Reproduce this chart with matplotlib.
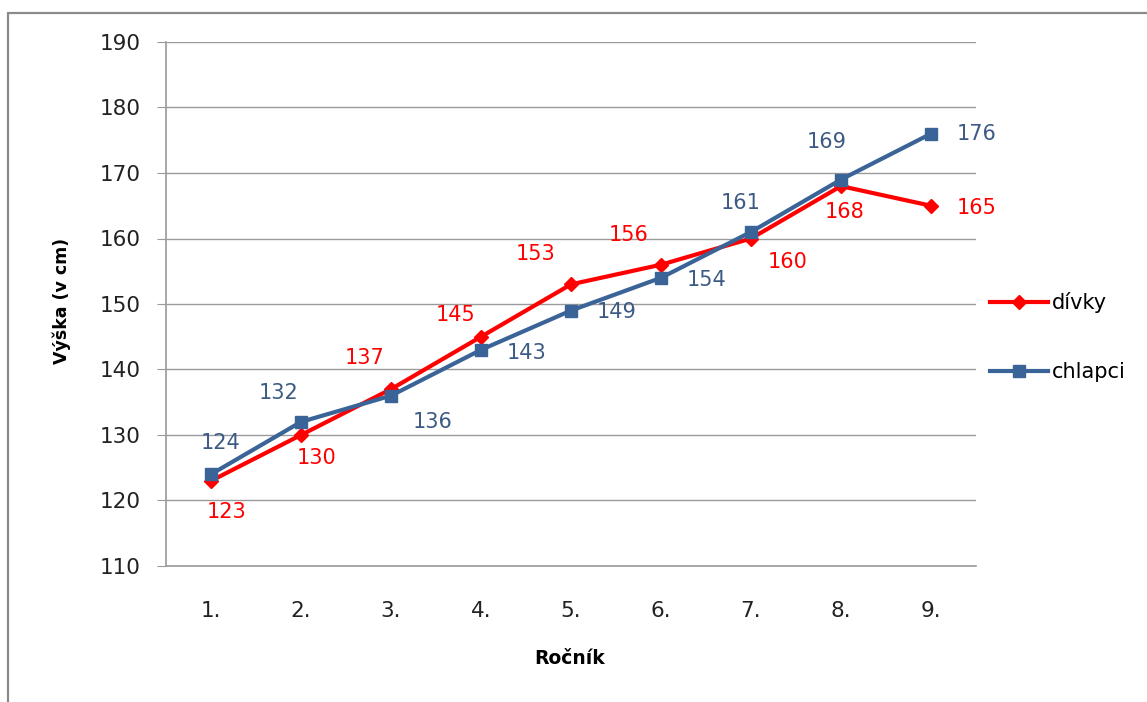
import matplotlib.pyplot as plt
from matplotlib.patches import Rectangle

# grades and average heights (cm)
rocnik = ["1.", "2.", "3.", "4.", "5.", "6.", "7.", "8.", "9."]
divky = [123, 130, 137, 145, 153, 156, 160, 168, 165]
chlapci = [124, 132, 136, 143, 149, 154, 161, 169, 176]

# label offsets in pixels (dx, dy), y up
off_divky = [(16, -31), (16, -23), (-26, 31), (-25, 22), (-35, 30),
             (-32, 30), (37, -24), (4, -26), (46, -2)]
off_chlapci = [(10, 31), (-22, 29), (42, -26), (46, -3), (46, -1),
               (46, -2), (-10, 29), (-14, 38), (46, 0)]

RED = "#ff0000"
BLUE = "#3a6497"
BLUE_TXT = "#3d5a84"
GRAY = "#9a9a9a"
plt.rcParams['font.family'] = 'DejaVu Sans'

W, H = 1147, 702
fig = plt.figure(figsize=(W / 100, H / 100), dpi=100)
ax = fig.add_axes([166 / W, 1 - 566 / H, 810 / W, 524 / H])

x = list(range(1, len(rocnik) + 1))
ax.plot(x, divky, color=RED, lw=3, marker="D", ms=7, label="dívky", zorder=3)
ax.plot(x, chlapci, color=BLUE, lw=3, marker="s", ms=9, label="chlapci", zorder=4)

for xi, v, o in zip(x, divky, off_divky):
    ax.annotate(str(v), (xi, v), xytext=o, textcoords="offset pixels",
                ha="center", va="center", color=RED, fontsize=15)
for xi, v, o in zip(x, chlapci, off_chlapci):
    ax.annotate(str(v), (xi, v), xytext=o, textcoords="offset pixels",
                ha="center", va="center", color=BLUE_TXT, fontsize=15)

ax.set_xlim(0.5, len(rocnik) + 0.5)
ax.set_ylim(110, 190)
ax.set_yticks(range(110, 191, 10))
ax.set_xticks(x)
ax.set_xticklabels(rocnik)
ax.grid(axis="y", color=GRAY, lw=1)
ax.set_axisbelow(True)
for s in ["top", "right"]:
    ax.spines[s].set_visible(False)
for s in ["left", "bottom"]:
    ax.spines[s].set_color(GRAY)
    ax.spines[s].set_linewidth(1.2)
ax.tick_params(axis="y", length=6.5, color=GRAY, pad=12, labelsize=15.5,
               labelcolor="#222222")
ax.tick_params(axis="x", length=0, pad=25, labelsize=15.5, labelcolor="#222222")

fig.text(570 / W, 1 - 658 / H, "Ročník", ha="center", va="center",
         fontsize=13.5, fontweight="bold")
fig.text(62 / W, 1 - 301 / H, "Výška (v cm)", ha="center", va="center",
         rotation=90, fontsize=12.5, fontweight="bold")

ax.legend(loc="center left", bbox_to_anchor=(990 / W, 1 - 337 / H),
          bbox_transform=fig.transFigure, frameon=False, fontsize=15,
          handlelength=2.8, handletextpad=0.15, labelspacing=2.35,
          borderpad=0, borderaxespad=0)

# outer frame of the chart area
fig.patches.append(Rectangle((8 / W, -0.1), 1.2, 1 - 13 / H + 0.1,
                             transform=fig.transFigure, fill=False,
                             edgecolor="#8a8a8a", lw=1.6))

fig.savefig("out.png", dpi=100)
